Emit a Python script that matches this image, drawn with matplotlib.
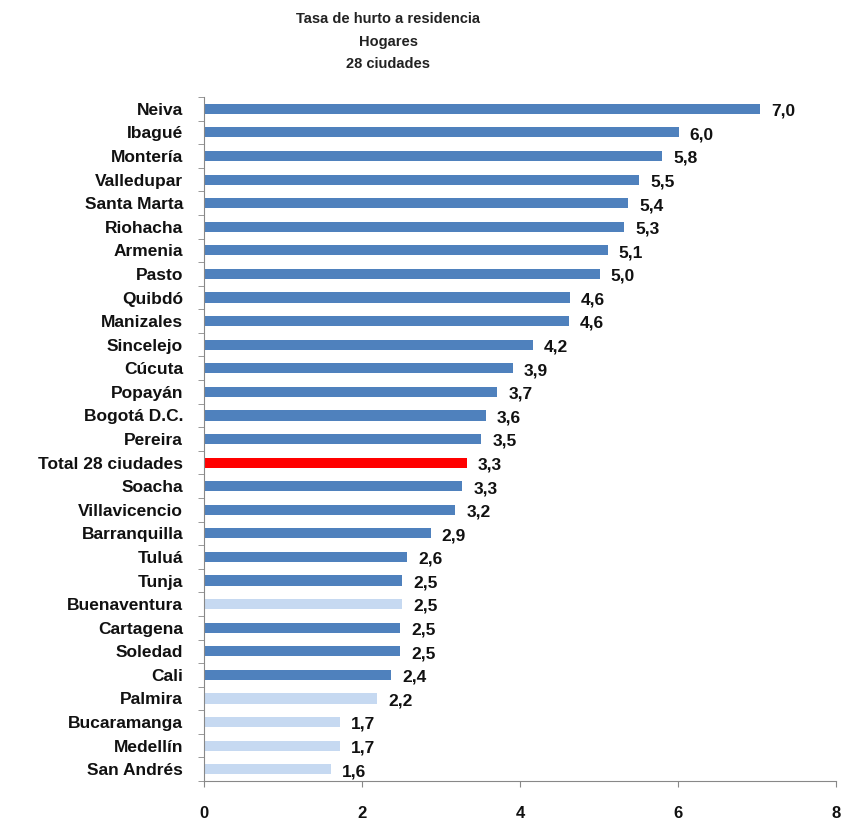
import numpy as np
import matplotlib
matplotlib.use("Agg")
import matplotlib.pyplot as plt

plt.rcParams["font.family"] = ["Liberation Sans", "DejaVu Sans"]

cities = ["Neiva", "Ibagué", "Montería", "Valledupar", "Santa Marta", "Riohacha",
          "Armenia", "Pasto", "Quibdó", "Manizales", "Sincelejo", "Cúcuta",
          "Popayán", "Bogotá D.C.", "Pereira", "Total 28 ciudades", "Soacha",
          "Villavicencio", "Barranquilla", "Tuluá", "Tunja", "Buenaventura",
          "Cartagena", "Soledad", "Cali", "Palmira", "Bucaramanga", "Medellín",
          "San Andrés"]
rates = [7.04, 6.01, 5.80, 5.51, 5.37, 5.32, 5.11, 5.01, 4.63, 4.62, 4.16, 3.91,
         3.71, 3.57, 3.51, 3.33, 3.27, 3.18, 2.87, 2.57, 2.51, 2.51, 2.48, 2.48,
         2.37, 2.19, 1.72, 1.72, 1.61]
labels = ["7,0", "6,0", "5,8", "5,5", "5,4", "5,3", "5,1", "5,0", "4,6", "4,6",
          "4,2", "3,9", "3,7", "3,6", "3,5", "3,3", "3,3", "3,2", "2,9", "2,6",
          "2,5", "2,5", "2,5", "2,5", "2,4", "2,2", "1,7", "1,7", "1,6"]
light = ["Buenaventura", "Palmira", "Bucaramanga", "Medellín", "San Andrés"]

DARK = "#4F81BD"
LIGHT = "#C6D9F1"
RED = "#FF0000"

colors = []
for c in cities:
    if c == "Total 28 ciudades":
        colors.append(RED)
    elif c in light:
        colors.append(LIGHT)
    else:
        colors.append(DARK)

fig = plt.figure(figsize=(8.46, 8.21), dpi=100)
ax = fig.add_axes([0.2411, 0.0487, 0.7471, 0.8331])

y = np.arange(len(cities))
ax.barh(y, rates, height=0.43, color=colors)
for yi, v, lab in zip(y, rates, labels):
    ax.text(v + 0.14, yi + 0.1, lab, va="center", ha="left",
            fontsize=12.5, fontweight="bold", color="#111111")

ax.set_ylim(len(cities) - 0.5, -0.5)
ax.set_xlim(0, 8)
ax.set_yticks(y)
ax.set_yticklabels(cities, fontsize=12.5, fontweight="bold", color="#111111")
ax.tick_params(axis="y", length=0, pad=15)
ax.set_yticks(np.arange(-0.5, len(cities), 1), minor=True)
ax.tick_params(axis="y", which="minor", length=4, color="#888888")
ax.set_xticks([0, 2, 4, 6, 8])
ax.set_xticklabels(["0", "2", "4", "6", "8"], fontsize=12, fontweight="bold",
                   color="#111111")
ax.tick_params(axis="x", length=4, color="#888888", pad=14)

for s in ["top", "right"]:
    ax.spines[s].set_visible(False)
for s in ["left", "bottom"]:
    ax.spines[s].set_color("#888888")

fig.text(388 / 846, 1 - 19 / 821, "Tasa de hurto a residencia", ha="center",
         va="center", fontsize=10.5, fontweight="bold", color="#222222")
fig.text(388 / 846, 1 - 42 / 821, "Hogares", ha="center",
         va="center", fontsize=10.5, fontweight="bold", color="#222222")
fig.text(388 / 846, 1 - 64 / 821, "28 ciudades", ha="center",
         va="center", fontsize=10.5, fontweight="bold", color="#222222")

fig.savefig("out.png", dpi=100)
